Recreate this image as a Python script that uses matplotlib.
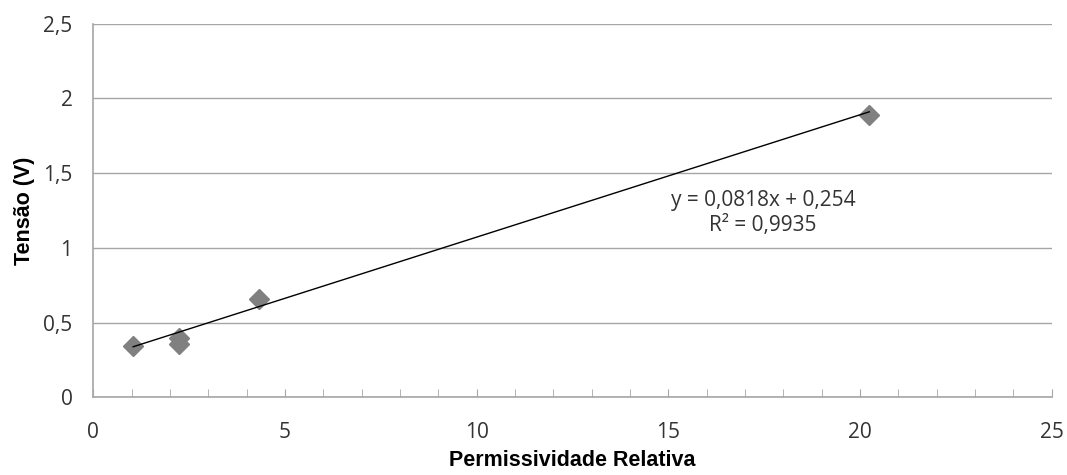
import matplotlib
matplotlib.use("Agg")
import matplotlib.pyplot as plt
from matplotlib.ticker import FuncFormatter, MultipleLocator
import numpy as np

# data
permissividade = [1.04, 2.24, 2.24, 4.32, 20.24]
tensao = [0.345, 0.40, 0.36, 0.66, 1.89]
slope, intercept = 0.0818, 0.254          # trendline from the chart label
r2 = 0.9935

x_ticks = [0, 5, 10, 15, 20, 25]
y_ticks = [0, 0.5, 1, 1.5, 2, 2.5]

grey = "#a6a6a6"
tick_font = "Open Sans"

fig = plt.figure(figsize=(10.67, 4.75), dpi=100)
ax = fig.add_axes([0.0874, 0.1632, 0.8983, 0.7873])

ax.plot(permissividade, tensao, "D", color="#808080", markersize=10, zorder=3)

xl = np.array([min(permissividade), max(permissividade)])
ax.plot(xl, slope * xl + intercept, color="black", linewidth=1.0, zorder=4)

def comma(v, pos):
    return ("%g" % v).replace(".", ",")

ax.set_xlim(0, 25)
ax.set_ylim(0, 2.5)
ax.set_xticks(x_ticks)
ax.set_yticks(y_ticks)
ax.xaxis.set_minor_locator(MultipleLocator(1))
ax.xaxis.set_major_formatter(FuncFormatter(comma))
ax.yaxis.set_major_formatter(FuncFormatter(comma))

ax.grid(axis="y", color=grey, linewidth=1.0)
ax.set_axisbelow(True)
for side in ["top", "right"]:
    ax.spines[side].set_visible(False)
for side in ["left", "bottom"]:
    ax.spines[side].set_color(grey)
    ax.spines[side].set_linewidth(1.2)

ax.tick_params(axis="x", which="both", direction="in", length=6, color=grey,
               pad=18, labelsize=15, labelcolor="#333333")
ax.tick_params(axis="y", length=0, pad=15, labelsize=15, labelcolor="#333333")
for lab in ax.get_xticklabels() + ax.get_yticklabels():
    lab.set_fontfamily(tick_font)

ax.set_xlabel("Permissividade Relativa", fontsize=15.5, fontweight="bold",
              family="Liberation Sans", labelpad=5)
ax.set_ylabel("Tensão (V)", fontsize=15.5, fontweight="bold",
              family="Liberation Sans", labelpad=6)

eq = "y = %sx + %s\nR² = %s" % (
    str(slope).replace(".", ","), str(intercept).replace(".", ","),
    str(r2).replace(".", ","))
ax.text(17.47, 1.235, eq, ha="center", va="center", fontsize=15,
        family=tick_font, color="#333333", linespacing=1.25)

fig.savefig("out.png", dpi=100)
